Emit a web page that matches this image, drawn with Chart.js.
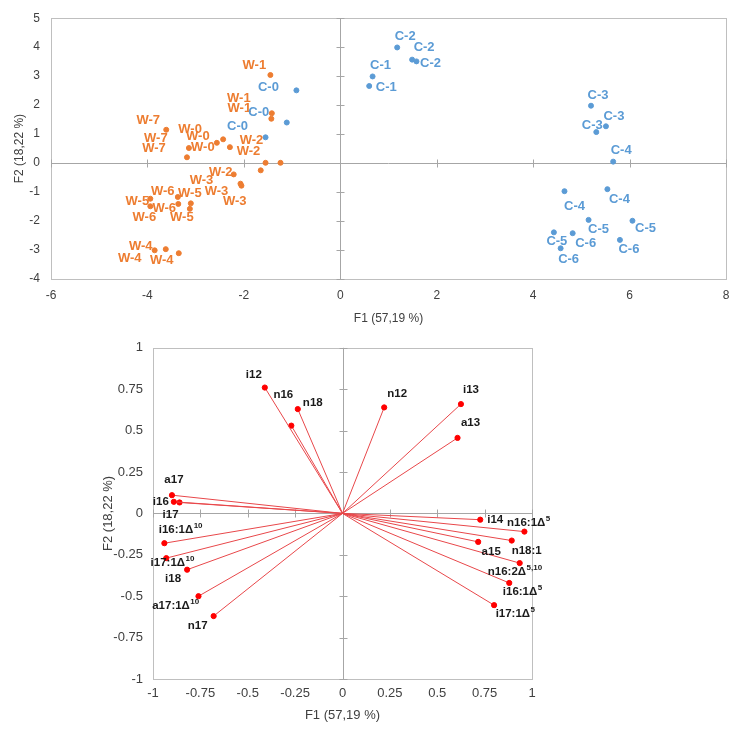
<!DOCTYPE html>
<html>
<head>
<meta charset="utf-8">
<script src="https://cdn.jsdelivr.net/npm/chart.js@4.4.0/dist/chart.umd.min.js"></script>
<style>
  body { margin: 0; background: #fff; }
  canvas { display: block; }
</style>
</head>
<body>
<canvas id="scoreChart" width="742" height="330"></canvas>
<canvas id="loadChart" width="742" height="403"></canvas>
<script>
// ---- score plot (samples) ----
const wNames = ['W-1', 'W-1', 'W-1', 'W-7', 'W-7', 'W-7', 'W-0', 'W-0', 'W-0', 'W-2', 'W-2', 'W-2',
    'W-3', 'W-3', 'W-3', 'W-6', 'W-5', 'W-5', 'W-6', 'W-6', 'W-5', 'W-4', 'W-4', 'W-4'];
const wF1 = [-1.45, -1.42, -1.43, -3.61, -3.14, -3.18, -2.43, -2.56, -2.29, -1.24, -1.55, -2.21,
    -2.07, -2.05, -1.65, -3.37, -3.10, -3.94, -3.36, -3.94, -3.12, -3.85, -3.62, -3.35];
const wF2 = [3.04, 1.72, 1.53, 1.15, 0.52, 0.20, 0.82, 0.70, 0.55, 0.01, 0.01, -0.39,
    -0.71, -0.78, -0.25, -1.17, -1.39, -1.23, -1.41, -1.49, -1.58, -3.01, -2.97, -3.11];

const cNames = ['C-0', 'C-0', 'C-0', 'C-1', 'C-1', 'C-2', 'C-2', 'C-2', 'C-3', 'C-3', 'C-3',
    'C-4', 'C-4', 'C-4', 'C-5', 'C-5', 'C-5', 'C-6', 'C-6', 'C-6'];
const cF1 = [-0.91, -1.11, -1.55, 0.67, 0.60, 1.18, 1.49, 1.58, 5.20, 5.51, 5.31,
    5.66, 4.65, 5.54, 5.15, 6.06, 4.43, 4.82, 5.80, 4.57];
const cF2 = [2.51, 1.40, 0.89, 2.99, 2.66, 3.99, 3.57, 3.51, 1.98, 1.27, 1.07,
    0.05, -0.97, -0.90, -1.96, -1.99, -2.39, -2.42, -2.65, -2.94];

// ---- loading plot (fatty acids) ----
const faNames = ['i12', 'n16', 'n18', 'n12', 'i13', 'a13', 'a17', 'i16', 'i17', 'i16:1Δ', 'i17:1Δ',
    'i18', 'a17:1Δ', 'n17', 'i14', 'n16:1Δ', 'n18:1', 'a15', 'n16:2Δ', 'i16:1Δ', 'i17:1Δ'];
const faSup = ['', '', '', '', '', '', '', '', '', '10', '10',
    '', '10', '', '', '5', '', '', '5,10', '5', '5'];
const faF1 = [-0.41, -0.27, -0.236, 0.22, 0.625, 0.607, -0.90, -0.89, -0.86, -0.94, -0.93,
    -0.82, -0.76, -0.68, 0.727, 0.96, 0.893, 0.716, 0.935, 0.88, 0.80];
const faF2 = [0.76, 0.53, 0.63, 0.64, 0.66, 0.456, 0.11, 0.07, 0.066, -0.18, -0.27,
    -0.34, -0.50, -0.62, -0.038, -0.11, -0.164, -0.172, -0.30, -0.42, -0.554];

// label placement (pixels from the point)
const wShift = [[-16, -10], [-33, -15], [-32, -10], [-18, -9], [-33, -10], [-33, -9], [-33, -10], [-19, -6], [-27, 0],
    [-29, -22], [-17, -11], [-13, -2], [-39, -3], [-25, 6], [-26, 31], [-15, -6], [-1, -10], [-13, 3],
    [-14, 4], [-6, 11], [-8, 9], [-14, -4], [-4, 11], [-49, 5]];
const cShift = [[-28, -3], [-28, -10], [-28, -11], [8, -11], [17, 1], [8, -11], [12, -12], [14, 2],
    [7, -10], [8, -10], [-4, -7], [8, -11], [10, 15], [12, 10], [10, 10], [13, 8], [3, 9],
    [13, 10], [9, 10], [8, 11]];
const faShift = [[-11, -13], [-8, -31], [15, -6], [13, -14], [10, -14], [13, -15], [2, -15], [-13, 0], [-9, 12],
    [16, -13], [6, 5], [-14, 9], [-23, 10], [-16, 10], [15, 0], [4, -9], [15, 10], [13, 10], [-5, 9], [13, 9], [21, 9]];

const ORANGE = '#ED7D31';
const BLUE = '#5B9BD5';
const RED = '#FF0000';
const TEXT = '#404040';

// draw a label with an optional superscript, centred on (x, y)
function drawLabel(ctx, txt, sup, x, y, color, font, supFont) {
    ctx.font = font;
    const w1 = ctx.measureText(txt).width;
    ctx.font = supFont;
    const w2 = sup ? ctx.measureText(sup).width : 0;
    const left = x - (w1 + w2) / 2;
    ctx.fillStyle = color;
    ctx.textAlign = 'left';
    ctx.textBaseline = 'middle';
    ctx.font = font;
    ctx.fillText(txt, left, y);
    if (sup) {
        ctx.font = supFont;
        ctx.fillText(sup, left + w1 + 0.5, y - 4);
    }
}

const pointLabels = {
    id: 'pointLabels',
    afterDatasetsDraw(chart, args, opts) {
        const ctx = chart.ctx;
        ctx.save();
        chart.data.datasets.forEach((ds, di) => {
            if (!ds.pointText) return;
            const meta = chart.getDatasetMeta(di);
            ds.pointText.forEach((txt, i) => {
                if (!txt) return;
                const el = meta.data[i];
                const s = ds.textShift[i];
                drawLabel(ctx, txt, ds.textSup ? ds.textSup[i] : '', el.x + s[0], el.y + s[1],
                    ds.textColor, opts.font, opts.supFont);
            });
        });
        ctx.restore();
    }
};

// plot frame + zero axes with tick marks
const frame = {
    id: 'frame',
    beforeDatasetsDraw(chart) {
        const { ctx, chartArea: a, scales: { x, y } } = chart;
        ctx.save();
        ctx.lineWidth = 1;
        ctx.strokeStyle = '#BFBFBF';
        ctx.strokeRect(Math.round(a.left) + 0.5, Math.round(a.top) + 0.5, Math.round(a.width), Math.round(a.height));
        const x0 = Math.round(x.getPixelForValue(0)) + 0.5;
        const y0 = Math.round(y.getPixelForValue(0)) + 0.5;
        ctx.strokeStyle = '#A6A6A6';
        ctx.beginPath();
        ctx.moveTo(x0, a.top); ctx.lineTo(x0, a.bottom);
        ctx.moveTo(a.left, y0); ctx.lineTo(a.right, y0);
        y.ticks.forEach(t => {
            const p = Math.round(y.getPixelForValue(t.value)) + 0.5;
            ctx.moveTo(x0 - 4, p); ctx.lineTo(x0 + 4, p);
        });
        x.ticks.forEach(t => {
            const p = Math.round(x.getPixelForValue(t.value)) + 0.5;
            ctx.moveTo(p, y0 - 4); ctx.lineTo(p, y0 + 4);
        });
        ctx.stroke();
        ctx.restore();
    }
};

function toPoints(xs, ys) {
    return xs.map((v, i) => ({ x: v, y: ys[i] }));
}

const topFont = { family: "'Liberation Sans Narrow', 'Liberation Sans', sans-serif", size: 12 };
const botFont = { family: "'Liberation Sans', Arial, sans-serif", size: 13 };

// top chart: scores
new Chart(document.getElementById('scoreChart'), {
    type: 'scatter',
    data: {
        datasets: [{
            data: toPoints(wF1, wF2),
            backgroundColor: ORANGE,
            borderColor: ORANGE,
            pointRadius: 2.5,
            pointText: wNames,
            textShift: wShift,
            textColor: ORANGE
        }, {
            data: toPoints(cF1, cF2),
            backgroundColor: BLUE,
            borderColor: BLUE,
            pointRadius: 2.5,
            pointText: cNames,
            textShift: cShift,
            textColor: BLUE
        }]
    },
    options: {
        responsive: false,
        animation: false,
        layout: { padding: { left: 0, right: 16, top: 11, bottom: 0 } },
        scales: {
            x: {
                min: -6, max: 8,
                ticks: { stepSize: 2, padding: 9, color: TEXT, font: topFont, callback: v => String(v) },
                grid: { display: false, drawTicks: false },
                border: { display: false },
                title: { display: true, text: 'F1 (57,19 %)', color: TEXT, font: topFont, padding: { top: 0, bottom: 4 } },
                afterFit: s => { s.height = 51; }
            },
            y: {
                min: -4, max: 5,
                ticks: { stepSize: 1, padding: 11, color: TEXT, font: topFont, callback: v => String(v) },
                grid: { display: false, drawTicks: false },
                border: { display: false },
                title: { display: true, text: 'F2 (18,22 %)', color: TEXT, font: topFont, padding: { top: 12, bottom: 0 } },
                afterFit: s => { s.width = 51; }
            }
        },
        plugins: {
            legend: { display: false },
            tooltip: { enabled: false },
            pointLabels: {
                font: "bold 13px 'Liberation Sans Narrow', 'Liberation Sans', sans-serif",
                supFont: "bold 8px 'Liberation Sans', sans-serif"
            }
        }
    },
    plugins: [frame, pointLabels]
});

// bottom chart: loadings, one ray per fatty acid
const rays = faNames.map((name, i) => ({
    type: 'line',
    data: [{ x: 0, y: 0 }, { x: faF1[i], y: faF2[i] }],
    borderColor: '#E8474A',
    borderWidth: 1,
    backgroundColor: RED,
    pointBorderColor: RED,
    pointRadius: [0, 2.6],
    showLine: true,
    pointText: ['', name],
    textSup: ['', faSup[i]],
    textShift: [[0, 0], faShift[i]],
    textColor: '#1A1A1A'
}));

new Chart(document.getElementById('loadChart'), {
    type: 'scatter',
    data: { datasets: rays },
    options: {
        responsive: false,
        animation: false,
        layout: { padding: { left: 100, right: 210, top: 16, bottom: 0 } },
        scales: {
            x: {
                min: -1, max: 1,
                ticks: { stepSize: 0.25, padding: 7, color: TEXT, font: botFont, callback: v => String(v) },
                grid: { display: false, drawTicks: false },
                border: { display: false },
                title: { display: true, text: 'F1 (57,19 %)', color: TEXT, font: botFont, padding: { top: 0, bottom: 10 } },
                afterFit: s => { s.height = 54; }
            },
            y: {
                min: -1, max: 1,
                ticks: { stepSize: 0.25, padding: 10, color: TEXT, font: botFont, callback: v => String(v) },
                grid: { display: false, drawTicks: false },
                border: { display: false },
                title: { display: true, text: 'F2 (18,22 %)', color: TEXT, font: botFont, padding: { top: 1, bottom: 0 } },
                afterFit: s => { s.width = 53; }
            }
        },
        plugins: {
            legend: { display: false },
            tooltip: { enabled: false },
            pointLabels: {
                font: "bold 11.5px 'Liberation Sans', sans-serif",
                supFont: "bold 8px 'Liberation Sans', sans-serif"
            }
        }
    },
    plugins: [frame, pointLabels]
});
</script>
</body>
</html>
